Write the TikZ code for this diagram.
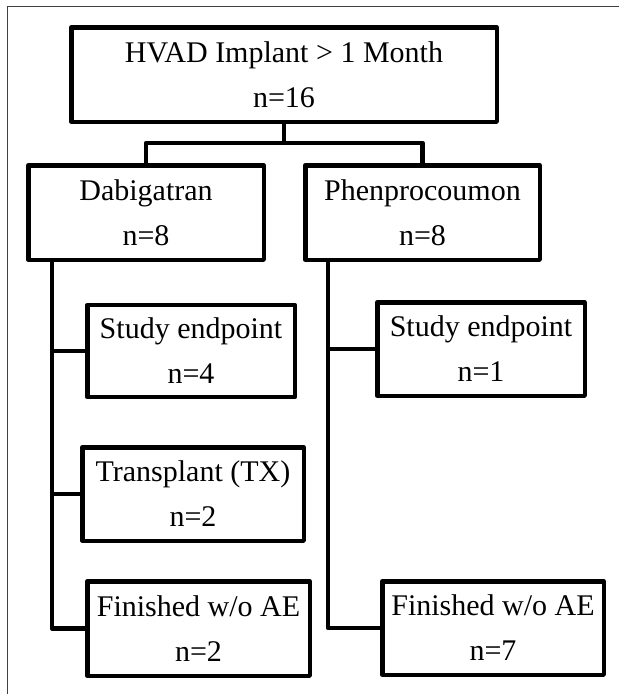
\documentclass[tikz,border=0pt]{standalone}
\usepackage{fontspec}
\setmainfont{Liberation Serif}
\usetikzlibrary{calc}
\tikzset{
  box/.style={draw=black, line width=4.5pt, line join=round, align=center,
    inner sep=0pt, outer sep=0pt, font=\fontsize{30}{45}\selectfont},
  link/.style={draw=black, line width=4.5pt, line join=round},
  frame/.style={draw=black!75, line width=1pt}
}
\begin{document}
\begin{tikzpicture}[x=1pt,y=1pt]
\useasboundingbox (0,0) rectangle (619,-694);
% outer frame (left and top edges visible)
\coordinate (fa) at (7,-694);
\coordinate (fb) at (7,-6);
\coordinate (fc) at (619,-6);
\draw[frame] (fa) -- (fb) -- (fc);

\node[box, minimum width=425.5pt, minimum height=94.5pt] (top) at (284,-74.5) {HVAD Implant > 1 Month\\n=16};
\node[box, minimum width=235.5pt, minimum height=94.5pt] (dab) at (146,-212.5) {Dabigatran\\n=8};
\node[box, minimum width=234.5pt, minimum height=94.5pt] (phen) at (422.5,-212.5) {Phenprocoumon\\n=8};

\node[box, minimum width=207.5pt, minimum height=92pt] (seL) at (191,-351) {Study endpoint\\n=4};
\node[box, minimum width=221.5pt, minimum height=93.5pt] (tx) at (193,-494) {Transplant (TX)\\n=2};
\node[box, minimum width=222.5pt, minimum height=94.5pt] (finL) at (198.5,-628.5) {Finished w/o AE\\n=2};

\node[box, minimum width=207.5pt, minimum height=93.5pt] (seR) at (481,-349) {Study endpoint\\n=1};
\node[box, minimum width=221.5pt, minimum height=93.5pt] (finR) at (493,-628) {Finished w/o AE\\n=7};

% top split
\coordinate (j) at (284,-143);
\draw[link] (top.south) -- (j);
\draw[link] (dab.north) |- (j) -| (phen.north);

% left branch
\coordinate (lx) at (52,0);
\draw[link] (dab.south -| lx) |- (finL.west);
\draw[link] (seL.west -| lx) -- (seL.west);
\draw[link] (tx.west -| lx) -- (tx.west);

% right branch
\coordinate (rx) at (328,0);
\draw[link] (phen.south -| rx) |- (finR.west);
\draw[link] (seR.west -| rx) -- (seR.west);
\end{tikzpicture}
\end{document}
